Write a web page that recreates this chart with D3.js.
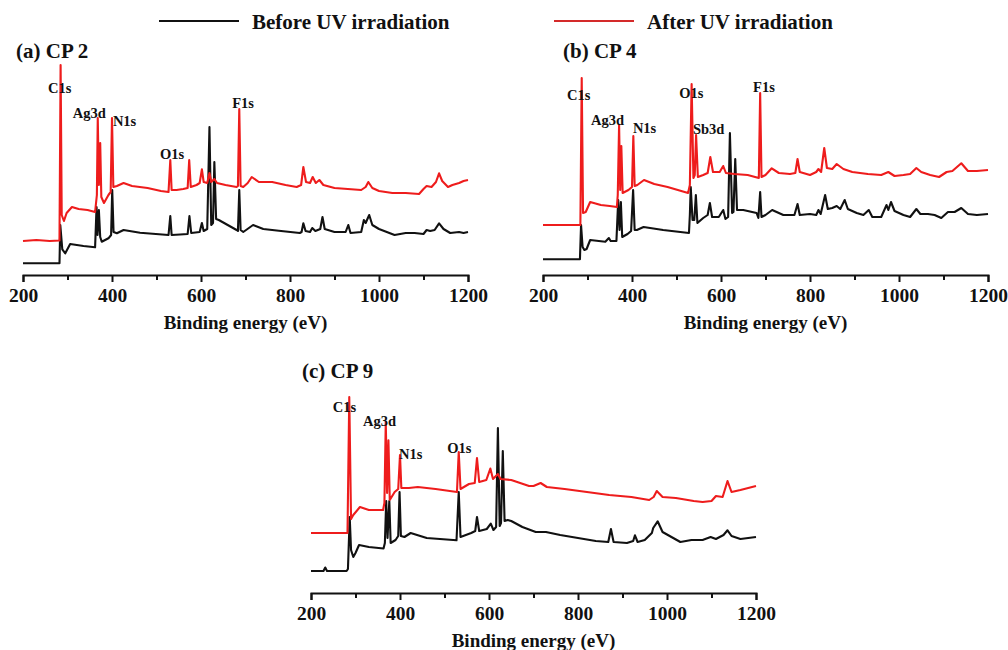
<!DOCTYPE html>
<html>
<head>
<meta charset="utf-8">
<script src="https://cdn.jsdelivr.net/npm/d3@7"></script>
<style>
  html, body { margin: 0; padding: 0; background: #fff; }
  svg { display: block; font-family: "Liberation Serif", "Times New Roman", serif; font-weight: bold; }
</style>
</head>
<body>
<svg id="chart" width="1008" height="650"></svg>
<script>
// XPS survey spectra, [binding energy (eV), intensity (a.u.)]
const cp2Before = [[200,11.7],[282,11.7],[283.8,50],[288.3,25.7],[295,21.7],[306,31],[336,29],[362,27.7],
  [365.3,68],[367.5,40],[370.5,65],[373.5,38],[377,33.3],[392,36.7],[398,40],[400.5,85],[403.5,43],[411,41.7],
  [426,45],[463,42.3],[527,40],[531,59],[534,40],[553,40.5],[570,41],[574,59],[578,42],[597,43],[602,52],[606,44],
  [614,46],[619,148],[623,50],[627,52],[630,113],[634,56],[640,55],[660,50],[680,45],[683,44],[686,85],[689,45],
  [695,43],[717,50],[740,46],[780,44],[822,42],[826,43],[830,51.7],[835,44],[845,43],[850,47],[857,44],[868,46],
  [873,58],[878,46],[900,43],[925,43],[931,50],[936,42],[960,43],[966,55],[970,52],[978,60],[985,50],[1000,46],
  [1035,40],[1060,42],[1080,42],[1100,41],[1107,45],[1115,44],[1125,45],[1135,51.7],[1145,46],[1160,42],
  [1180,43],[1190,42],[1200,43]];
const cp2After = [[200,34],[230,35],[260,34],[282,34.5],[284.5,210],[287,60],[292,54],[298,62],[310,68],[325,66],
  [345,65],[362,63],[366,80],[368,157],[370.5,90],[373.5,132],[376,78],[382,72],[392,80],[397,83],[400,157],
  [403,88],[411,89],[426,92],[445,89],[480,87],[510,84],[527,83],[531,115],[534,85],[545,85],[560,86],[570,87],
  [573.5,115],[577,88],[590,90],[597,92],[602,105.7],[606,93],[614,92],[619,102],[623,93],[630,96],[636,92],
  [655,90],[680,88],[683,89],[686,166],[689,89],[695,88],[705,92],[714,98],[730,93],[760,93],[790,90],[815,88],
  [825,90],[830,108],[836,93],[845,92],[851,98],[858,92],[866,95],[875,90],[900,87],[930,86],[960,85],[970,88],
  [976,93],[985,87],[1000,84],[1030,82],[1060,82],[1090,81],[1100,86],[1107,89],[1118,88],[1128,93],[1135,101.7],
  [1142,94],[1155,88],[1165,90],[1180,92],[1190,94],[1200,95]];

const cp4Before = [[200,15.7],[283,15.7],[285.5,50],[289,28],[293,25],[298,26],[306,35],[340,33.3],[348,37],
  [352,34],[365,34],[369,75],[372,45],[375,73],[378,38],[390,41],[398,44],[402.5,85],[406,45],[411,45],[426,48],
  [470,45],[528,42],[530,60],[532,88],[536,55],[540,55],[543.5,80],[547,52],[560,57],[570,60],[575,72],[580,58],
  [595,58],[605,65],[610,56],[616,58],[620,142],[625,62],[628,63],[632,116],[636,65],[650,65],[680,62],[684,57],
  [688,83],[691,58],[700,60],[715,65],[740,60],[765,60],[772,71],[777,60],[800,61],[814,60],[819,65],[824,61],
  [834,80],[840,66],[850,67],[860,69],[868,66],[878,75],[885,66],[905,62],[920,60],[932,65],[940,58],[960,58],
  [972,70],[976,65],[982,73],[990,64],[1010,60],[1025,58],[1039,66],[1048,61],[1065,61],[1080,60],[1095,57],
  [1110,63],[1125,63],[1140,67],[1155,61],[1175,60],[1200,61]];
const cp4After = [[200,50],[284,50],[287,197],[290,62],[296,63],[306,73],[330,70],[350,69],[366,68],[368,80],
  [371,150],[373.5,85],[376,129],[379,82],[392,85],[400,88],[403,139],[406,89],[412,90],[427,95],[450,91],
  [480,88],[526,82],[530,90],[534,191],[538,97],[541,100],[544,140],[548,98],[560,100],[570,102],[576,118],
  [582,103],[597,103],[605,109],[611,102],[630,101],[660,100],[685,97],[688,182],[691,98],[700,100],[714,106.7],
  [730,102],[755,101],[767,102],[772,116],[777,103],[800,100],[814,103],[819,106],[825,103],[832,127],[838,107],
  [850,106],[860,111],[875,106],[895,103],[930,101],[960,100],[976,103],[990,99],[1010,100],[1025,101],
  [1039,107],[1050,103],[1070,100],[1090,98],[1107,103],[1120,104],[1140,111.7],[1155,104],[1175,104],[1200,105]];

const cp9Before = [[200,22],[228,22],[232,25.5],[236,22],[280,22],[283,24],[287,76],[290,43],[295,36],[300,40],
  [308,48],[330,46],[363,44.5],[366,50],[369,92],[372,55],[376,92],[379,50],[390,53],[396,57],[399,101],[402,57],
  [410,56],[424,60],[460,55],[527,52.7],[532,101],[536,56],[560,60],[569,62],[573,76],[578,62],[595,64],
  [604,69.3],[610,63],[616,66],[620,165],[624,67],[627,70],[631,142],[635,72],[642,73],[650,72],[675,66],
  [705,61],[728,61],[760,58],[800,55],[840,52],[868,51],[874,64],[880,51],[910,50],[924,52],[928,57.7],[934,51],
  [950,53],[966,60],[969,65],[979,71.7],[990,61],[1010,56],[1030,51],[1055,53],[1080,53],[1098,56],[1110,54],
  [1127,58],[1136,62.7],[1145,57],[1165,54],[1200,56]];
const cp9After = [[200,60],[282,60],[286,196],[290,74],[295,78],[310,86],[330,83],[362,83],[365,90],[368,171],
  [371,100],[374,152.7],[377,93],[388,101],[396,104],[400,138],[403,105],[420,105],[440,106],[480,104],[528,101],
  [532,141],[536,104],[555,109],[568,110],[573,135],[578,111],[594,113],[603,124.4],[609,114],[620,119],
  [626,114],[650,113],[690,107],[700,107],[716,110],[730,106],[770,104],[820,101],[870,98],[920,96],[960,93],
  [970,96],[977,102],[990,96],[1020,95],[1060,92],[1080,91],[1100,92],[1110,97],[1125,96],[1136,112],[1145,101],
  [1165,103],[1200,107]];

// Peak assignments: [label, eV, intensity] for the text baseline-left corner
const cp2Peaks = [["C1s",256,182],["Ag3d",312,157],["N1s",402,149],["O1s",508,116],["F1s",670,167]];
const cp4Peaks = [["C1s",254,175],["Ag3d",308,150],["N1s",402,142],["O1s",506,177],["Sb3d",537,141],["F1s",672,183]];
const cp9Peaks = [["C1s",249,181],["Ag3d",317,167],["N1s",398,134],["O1s",506,140]];

const panelTitles = ["(a) CP 2", "(b) CP 4", "(c) CP 9"];
const seriesNames = ["Before UV irradiation", "After UV irradiation"];
const xTicks = d3.range(200, 1201, 100);
const xLabel = "Binding energy (eV)";

const colors = ["#111111", "#ee1c1c"];
const svg = d3.select("#chart");

const panels = [
  { title: panelTitles[0], before: cp2Before, after: cp2After, peaks: cp2Peaks, x0: 23,  x1: 468, bottom: 275, titleX: 16,  titleY: 58 },
  { title: panelTitles[1], before: cp4Before, after: cp4After, peaks: cp4Peaks, x0: 543, x1: 988, bottom: 275, titleX: 563, titleY: 58 },
  { title: panelTitles[2], before: cp9Before, after: cp9After, peaks: cp9Peaks, x0: 311, x1: 756, bottom: 593, titleX: 302, titleY: 378 }
];

panels.forEach(p => {
  const x = d3.scaleLinear().domain([200, 1200]).range([p.x0, p.x1]);
  const y = d3.scaleLinear().domain([0, 220]).range([p.bottom, p.bottom - 220]);
  const g = svg.append("g");

  const line = d3.line().x(d => x(d[0])).y(d => y(d[1]));
  [p.before, p.after].forEach((s, i) => {
    g.append("path").datum(s)
      .attr("d", line)
      .attr("fill", "none")
      .attr("stroke", colors[i])
      .attr("stroke-width", 2.1)
      .attr("stroke-linejoin", "round");
  });

  // major ticks every 200 eV (labelled), minor ticks in between
  const axis = d3.axisBottom(x)
    .tickValues(xTicks)
    .tickSizeOuter(0)
    .tickSize(7)
    .tickFormat(d => d % 200 === 0 ? d : "");
  const ag = g.append("g").attr("transform", `translate(0,${p.bottom})`).call(axis);
  ag.select(".domain").attr("stroke", "#111").attr("stroke-width", 2);
  ag.selectAll(".tick line").attr("stroke", "#111").attr("stroke-width", 2)
    .filter(d => d % 200 !== 0).attr("y2", 5);
  ag.selectAll(".tick text")
    .attr("y", 13).attr("dy", "0.71em")
    .attr("fill", "#111")
    .style("font-family", '"Liberation Serif", serif')
    .style("font-weight", "bold")
    .style("font-size", "19.5px");

  g.append("text")
    .attr("x", (p.x0 + p.x1) / 2)
    .attr("y", p.bottom + 54)
    .attr("text-anchor", "middle")
    .attr("fill", "#111")
    .style("font-size", "19px")
    .text(xLabel);

  g.append("text")
    .attr("x", p.titleX).attr("y", p.titleY)
    .attr("fill", "#111")
    .style("font-size", "21px")
    .text(p.title);

  g.selectAll("text.peak").data(p.peaks).enter().append("text")
    .attr("class", "peak")
    .attr("x", d => x(d[1]))
    .attr("y", d => y(d[2]))
    .attr("fill", "#111")
    .style("font-size", "14.5px")
    .text(d => d[0]);
});

// Legend across the top
const legendItems = [{ name: seriesNames[0], color: colors[0], x: 159 }, { name: seriesNames[1], color: "#d42a2a", x: 554 }];
const lg = svg.append("g");
legendItems.forEach(it => {
  lg.append("line")
    .attr("x1", it.x).attr("x2", it.x + 80)
    .attr("y1", 21).attr("y2", 21)
    .attr("stroke", it.color).attr("stroke-width", 2);
  lg.append("text")
    .attr("x", it.x + 93).attr("y", 29)
    .attr("fill", "#111")
    .style("font-size", "21px")
    .text(it.name);
});
</script>
</body>
</html>
